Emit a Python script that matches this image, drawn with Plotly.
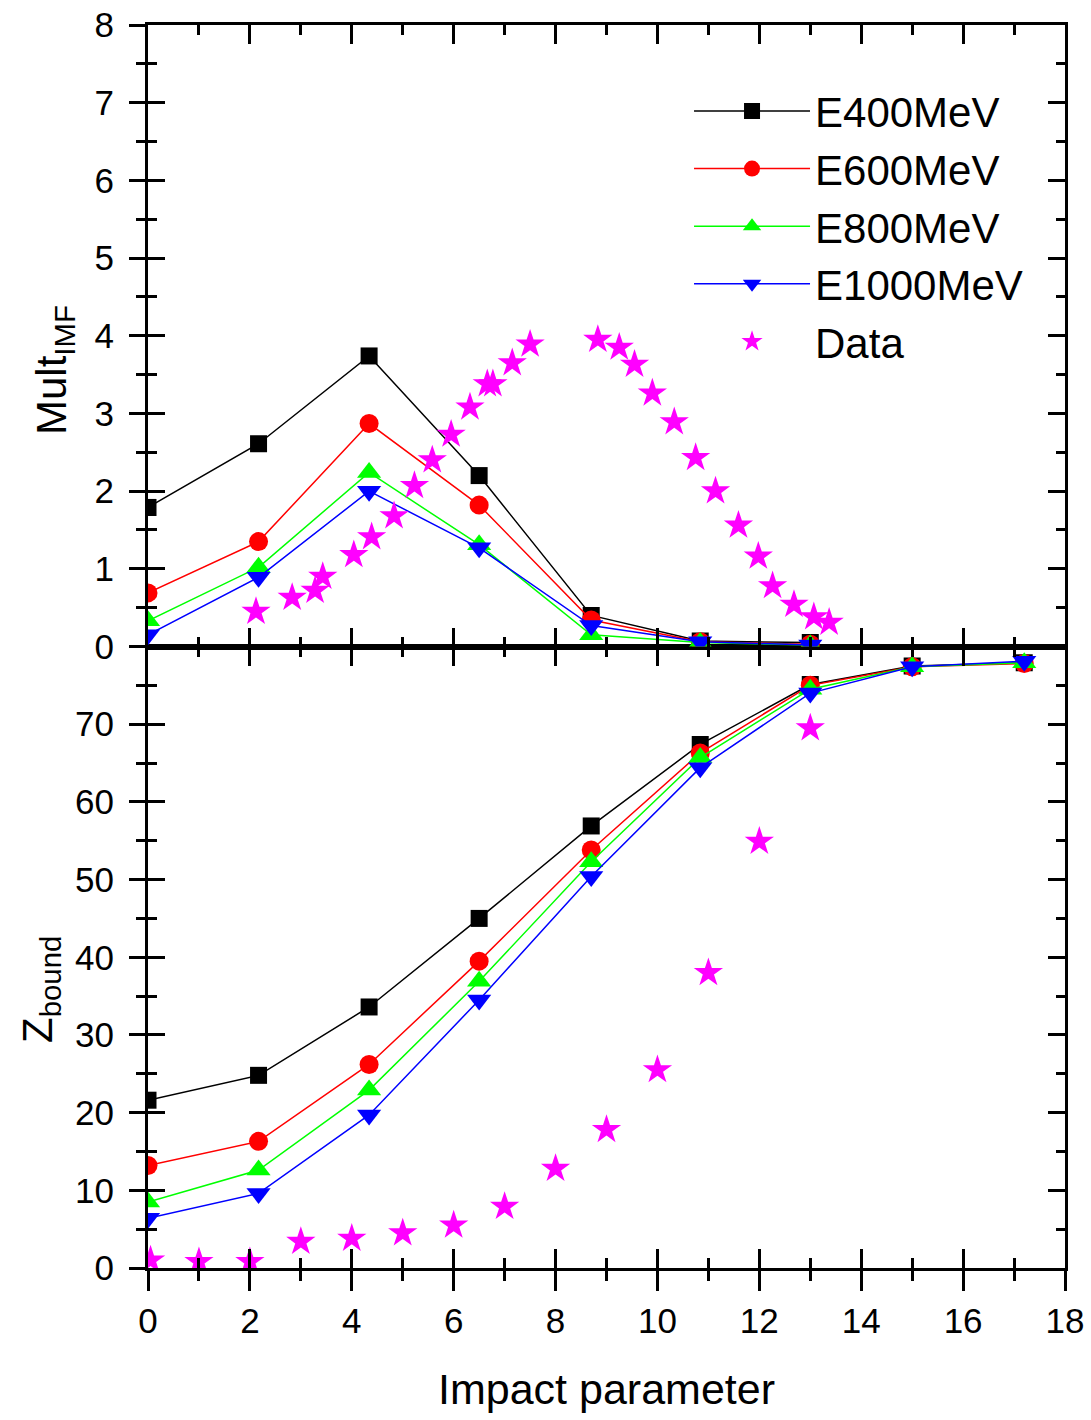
import plotly.graph_objects as go

# ---------------- data ----------------
b_model = [0, 2.17, 4.34, 6.5, 8.7, 10.84, 13.0, 15.0, 17.2]
b_model_top = [0, 2.17, 4.34, 6.5, 8.7, 10.84, 13.0]

mult_e400 = [1.79, 2.61, 3.74, 2.20, 0.40, 0.07, 0.05]
mult_e600 = [0.69, 1.35, 2.87, 1.82, 0.34, 0.06, 0.03]
mult_e800 = [0.33, 1.02, 2.24, 1.31, 0.15, 0.05, 0.02]
mult_e1000 = [0.15, 0.89, 2.00, 1.27, 0.27, 0.06, 0.02]

b_data_top = [2.12, 2.83, 3.28, 3.43, 4.04, 4.39, 4.83, 5.23, 5.58, 5.95, 6.32,
              6.66, 6.77, 7.15, 7.50, 8.83, 9.25, 9.55, 9.90, 10.33, 10.75,
              11.14, 11.59, 11.98, 12.26, 12.68, 13.07, 13.37]
mult_data = [0.45, 0.63, 0.72, 0.90, 1.18, 1.41, 1.68, 2.07, 2.40, 2.73, 3.08,
             3.38, 3.38, 3.65, 3.89, 3.95, 3.85, 3.63, 3.26, 2.89, 2.43,
             2.00, 1.56, 1.16, 0.78, 0.54, 0.38, 0.31]

zb_e400 = [21.6, 24.8, 33.6, 45.0, 56.9, 67.4, 75.1, 77.5, 77.9]
zb_e600 = [13.2, 16.3, 26.2, 39.5, 53.8, 66.3, 75.0, 77.4, 77.8]
zb_e800 = [8.5, 12.6, 22.9, 36.9, 52.3, 65.7, 74.5, 77.4, 77.9]
zb_e1000 = [6.4, 9.6, 19.7, 34.5, 50.4, 64.4, 74.0, 77.4, 78.1]

b_data_bot = [0.05, 1, 2, 3, 4, 5, 6, 7, 8, 9, 10, 11, 12, 13]
zb_data = [1.0, 0.8, 0.8, 3.4, 3.8, 4.5, 5.5, 7.9, 12.8, 17.8, 25.5, 38.0, 54.9, 69.5]

x_ticks = [0, 2, 4, 6, 8, 10, 12, 14, 16, 18]
y_top_ticks = [0, 1, 2, 3, 4, 5, 6, 7, 8]
y_bot_ticks = [0, 10, 20, 30, 40, 50, 60, 70]

names = ["E400MeV", "E600MeV", "E800MeV", "E1000MeV"]
colors = ["#000000", "#FF0000", "#00FF00", "#0000FF"]
symbols = ["square", "circle", "triangle-up", "triangle-down"]
sizes = [17, 19, 21, 21]

FONT = "Liberation Sans, Arial, sans-serif"

fig = go.Figure()

top_series = [mult_e400, mult_e600, mult_e800, mult_e1000]
bot_series = [zb_e400, zb_e600, zb_e800, zb_e1000]

for i in range(4):
    fig.add_trace(go.Scatter(
        x=b_model_top, y=top_series[i], xaxis="x2", yaxis="y2",
        mode="lines+markers", name=names[i], legendgroup=names[i],
        line=dict(color=colors[i], width=1.5),
        marker=dict(symbol=symbols[i], size=sizes[i], color=colors[i]),
    ))
# Data on the overlaid (labelled) axes of the top panel
fig.add_trace(go.Scatter(
    x=b_data_top, y=mult_data, xaxis="x2", yaxis="y4",
    mode="markers", name="Data", legendgroup="Data",
    marker=dict(symbol="star", size=22, color="#FF00FF"),
))
for i in range(4):
    fig.add_trace(go.Scatter(
        x=b_model, y=bot_series[i], xaxis="x", yaxis="y",
        mode="lines+markers", name=names[i], legendgroup=names[i], showlegend=False,
        line=dict(color=colors[i], width=1.5),
        marker=dict(symbol=symbols[i], size=sizes[i], color=colors[i]),
    ))
# Data on the overlaid (labelled) axes of the bottom panel
fig.add_trace(go.Scatter(
    x=b_data_bot, y=zb_data, xaxis="x3", yaxis="y3",
    mode="markers", name="Data", legendgroup="Data", showlegend=False,
    marker=dict(symbol="star", size=22, color="#FF00FF"),
))

tickfont = dict(family=FONT, size=35, color="black")
common = dict(showline=True, linewidth=3, linecolor="black", showgrid=False,
              zeroline=False, tickcolor="black", tickwidth=3, automargin=False)

# plot-area geometry (pixels) for placing the rotated y titles
L, R, T, B, W, H = 148, 26, 25, 152, 1091, 1420
pw, ph = W - L - R, H - T - B


def px_x(px):
    return (px - L) / pw


def px_y(py):
    return (H - B - py) / ph


fig.update_layout(
    width=W, height=H,
    margin=dict(l=L, r=R, t=T, b=B),
    paper_bgcolor="white", plot_bgcolor="white",
    font=dict(family=FONT, color="black"),
    showlegend=True,
    legend=dict(x=0.59, y=0.958, xanchor="left", yanchor="top",
                font=dict(family=FONT, size=42, color="black"),
                itemwidth=116, tracegroupgap=0, bgcolor="rgba(0,0,0,0)"),
    # bottom panel inner axes
    xaxis=dict(domain=[0, 1], anchor="y", range=[0, 18], tickvals=x_ticks,
               ticks="inside", ticklen=19, mirror="ticks", showticklabels=False,
               minor=dict(ticks="inside", ticklen=10, dtick=1, tickwidth=3, tickcolor="black"),
               **common),
    yaxis=dict(domain=[0, 0.5], anchor="x", range=[0, 80], dtick=10,
               ticks="inside", ticklen=17, mirror="ticks", showticklabels=False,
               minor=dict(ticks="inside", ticklen=9, dtick=5, tickwidth=3, tickcolor="black"),
               **common),
    # bottom panel outer (labelled) axes
    xaxis3=dict(overlaying="x", anchor="y", side="bottom", range=[0, 18], tickvals=x_ticks,
                ticks="outside", ticklen=20, showticklabels=True, tickfont=tickfont,
                minor=dict(ticks="outside", ticklen=10, dtick=1, tickwidth=3, tickcolor="black"),
                title=dict(text="Impact parameter", font=dict(family=FONT, size=43), standoff=35),
                **common),
    yaxis3=dict(overlaying="y", anchor="x", side="left", range=[0, 80], tickvals=y_bot_ticks,
                ticks="outside", ticklen=16, showticklabels=True, tickfont=tickfont,
                minor=dict(ticks="outside", ticklen=9, dtick=5, tickwidth=3, tickcolor="black"),
                ticklabelstandoff=8,
                **common),
    # top panel inner axes
    xaxis2=dict(domain=[0, 1], anchor="y2", range=[0, 18], tickvals=x_ticks, matches="x",
                ticks="inside", ticklen=19, mirror="ticks", showticklabels=False,
                minor=dict(ticks="inside", ticklen=10, dtick=1, tickwidth=3, tickcolor="black"),
                **common),
    yaxis2=dict(domain=[0.5, 1], anchor="x2", range=[0, 8], dtick=1,
                ticks="inside", ticklen=17, mirror="ticks", showticklabels=False,
                minor=dict(ticks="inside", ticklen=9, dtick=0.5, tickwidth=3, tickcolor="black"),
                **common),
    yaxis4=dict(overlaying="y2", anchor="x2", side="left", range=[0, 8], tickvals=y_top_ticks,
                ticks="outside", ticklen=16, showticklabels=True, tickfont=tickfont,
                minor=dict(ticks="outside", ticklen=9, dtick=0.5, tickwidth=3, tickcolor="black"),
                ticklabelstandoff=8,
                **common),
    annotations=[
        dict(text="Mult<sub>IMF</sub>", textangle=-90, xref="paper", yref="paper",
             x=px_x(54), y=px_y(370), xanchor="center", yanchor="middle", showarrow=False,
             font=dict(family=FONT, size=42, color="black")),
        dict(text="Z<sub>bound</sub>", textangle=-90, xref="paper", yref="paper",
             x=px_x(40), y=px_y(990), xanchor="center", yanchor="middle", showarrow=False,
             font=dict(family=FONT, size=42, color="black")),
    ],
)

fig.write_html("out.html")
